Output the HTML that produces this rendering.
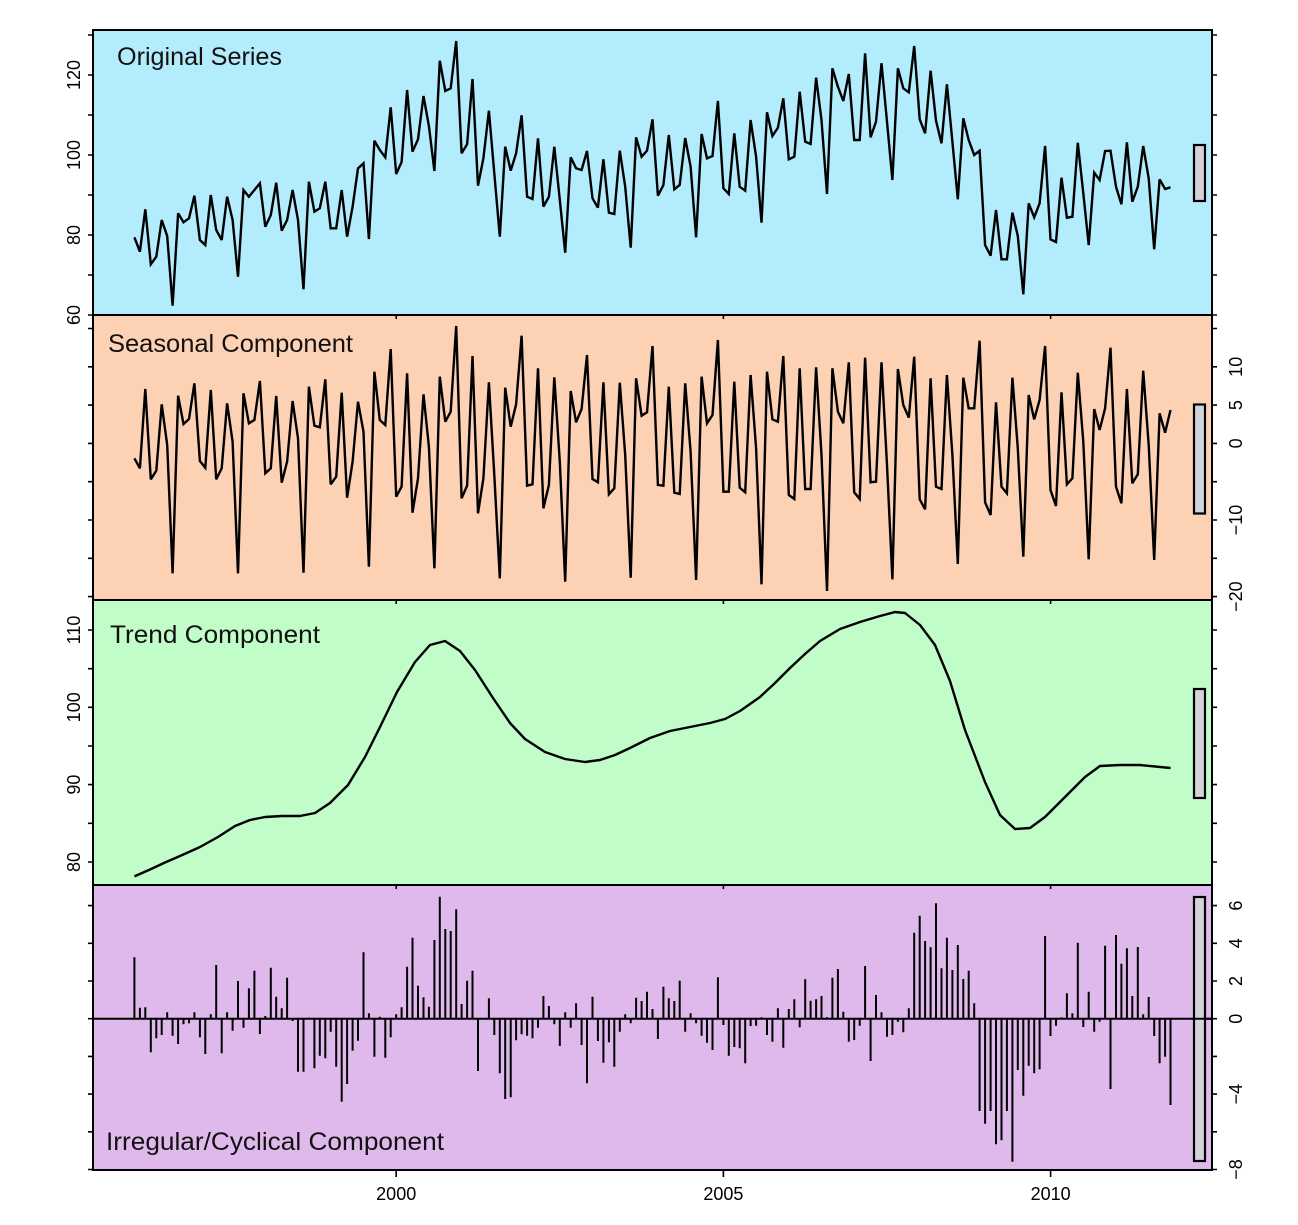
<!DOCTYPE html>
<html>
<head>
<meta charset="utf-8">
<style>
html,body{margin:0;padding:0;background:#ffffff;}
svg{display:block;}
.ax{font-family:"Liberation Sans",Arial,sans-serif;font-size:18px;fill:#000;}
.tt{font-family:"Liberation Sans",Arial,sans-serif;font-size:25px;fill:#111;}
</style>
</head>
<body>
<svg width="1298" height="1225" viewBox="0 0 1298 1225" xmlns="http://www.w3.org/2000/svg">
<rect x="0" y="0" width="1298" height="1225" fill="#ffffff"/>

<!-- panel backgrounds -->
<rect x="93" y="30" width="1119" height="285" fill="#b3ecfc"/>
<rect x="93" y="315" width="1119" height="285" fill="#fcd1b4"/>
<rect x="93" y="600" width="1119" height="285" fill="#c1fdc9"/>
<rect x="93" y="885" width="1119" height="285" fill="#e0b9ec"/>

<!-- titles -->
<text class="tt" x="117" y="65" textLength="165" lengthAdjust="spacingAndGlyphs">Original Series</text>
<text class="tt" x="108" y="352" textLength="245" lengthAdjust="spacingAndGlyphs">Seasonal Component</text>
<text class="tt" x="110" y="643" textLength="210" lengthAdjust="spacingAndGlyphs">Trend Component</text>
<text class="tt" x="106" y="1150" textLength="338" lengthAdjust="spacingAndGlyphs">Irregular/Cyclical Component</text>

<!-- original series -->
<polyline fill="none" stroke="#000" stroke-width="2.4" stroke-linejoin="miter" stroke-miterlimit="3" points="134.4,237.3 139.9,251.7 145.3,209.3 150.8,264.3 156.3,256.7 161.7,220 167.2,236 172.6,305.7 178.1,213.3 183.5,222.3 189,218.3 194.4,195.7 199.9,240 205.3,245 210.8,195 216.2,230 221.7,240 227.1,196.7 232.6,220 238,276.7 243.5,190 248.9,196.7 254.4,190 259.9,183.3 265.3,226.7 270.8,215 276.2,182.7 281.7,230.7 287.1,220 292.6,190 298,220 303.5,289.3 308.9,181.7 314.4,211.7 319.8,208.3 325.3,181.7 330.7,228.3 336.2,228.3 341.7,190 347.1,236.7 352.6,206.7 358,168.3 363.5,163.3 368.9,239 374.4,140.7 379.8,150 385.3,157.3 390.7,107.3 396.2,174 401.6,162 407.1,90 412.5,151.7 418,139.3 423.5,96 428.9,126 434.4,171 439.8,60.7 445.3,91 450.7,88.3 456.2,41 461.6,153.3 467.1,144.3 472.5,79 478,185.7 483.4,158.3 488.9,110.7 494.3,173.3 499.8,236.7 505.2,146.7 510.7,170.7 516.1,153.3 521.6,115.3 527.1,196.7 532.5,199 538,138.3 543.4,206.7 548.9,196.7 554.3,146.7 559.8,200 565.2,252.7 570.7,157.3 576.1,168.3 581.6,170 587,151 592.5,198.3 597.9,207.7 603.4,159.3 608.9,212.7 614.3,214 619.8,150.7 625.2,186.7 630.7,247.7 636.1,137.3 641.6,156.7 647,150.7 652.5,119.3 657.9,195.7 663.4,185 668.8,135 674.3,189.3 679.7,185 685.2,138 690.6,166.7 696.1,237.3 701.6,134 707,158.3 712.5,156 717.9,101 723.4,188.3 728.8,194 734.3,133.3 739.7,186.7 745.2,190.7 750.6,120 756.1,156.7 761.5,222.7 767,112.3 772.4,136 777.9,127.7 783.3,98.3 788.8,159.3 794.3,156.7 799.7,91.7 805.2,141.7 810.6,144 816.1,77.7 821.5,120 827,194 832.4,68.3 837.9,86.7 843.3,101 848.8,74 854.2,140 859.7,140 865.1,53.3 870.6,137.3 876,121.7 881.5,63.3 887,121.7 892.4,180 897.9,68.3 903.3,88.3 908.8,92.3 914.2,46 919.7,119.3 925.1,133.3 930.6,70.7 936,120.7 941.5,143.3 946.9,84.3 952.4,141.7 957.8,199.3 963.3,118.3 968.7,140 974.2,155 979.6,150.7 985.1,245 990.6,255.7 996,210 1001.5,259.3 1006.9,259.3 1012.4,212.7 1017.8,236 1023.3,294.3 1028.7,203.3 1034.2,217.3 1039.6,203.3 1045.1,146 1050.5,239.3 1056,242 1061.5,177.7 1066.9,217.7 1072.4,216.7 1077.8,142.7 1083.3,193.3 1088.7,245 1094.2,172.7 1099.6,180 1105.1,151 1110.5,150.7 1116,186.7 1121.4,204.3 1126.9,142.3 1132.3,201.7 1137.8,186.7 1143.2,146 1148.7,178.3 1154.2,249.3 1159.6,179.3 1165.1,189 1170.5,187.3"/>

<!-- seasonal -->
<polyline fill="none" stroke="#000" stroke-width="2.4" stroke-linejoin="miter" stroke-miterlimit="3" points="134.4,458.3 139.9,468.3 145.3,389 150.8,479.3 156.3,470.7 161.7,404.3 167.2,445 172.6,573.3 178.1,395.7 183.5,424 189,419 194.4,383.3 199.9,461 205.3,467.7 210.8,390 216.2,479.3 221.7,468.3 227.1,403.3 232.6,441.7 238,573.3 243.5,393.3 248.9,423.3 254.4,420 259.9,381 265.3,473.3 270.8,468.3 276.2,396 281.7,482.7 287.1,461.7 292.6,401 298,438.3 303.5,572.7 308.9,386.7 314.4,425.7 319.8,427.3 325.3,379.3 330.7,484.3 336.2,476.7 341.7,392.7 347.1,497.7 352.6,461.7 358,401.7 363.5,431.7 368.9,566.7 374.4,371.7 379.8,420 385.3,425 390.7,349 396.2,496.7 401.6,486.7 407.1,373.3 412.5,512.7 418,478.3 423.5,394.3 428.9,446.7 434.4,568.3 439.8,376.7 445.3,421.7 450.7,411.7 456.2,326 461.6,498.3 467.1,485.7 472.5,356 478,513.3 483.4,478.3 488.9,382.3 494.3,475 499.8,578.3 505.2,387.7 510.7,426.7 516.1,404.3 521.6,335.7 527.1,485.7 532.5,484.3 538,368.3 543.4,508.3 548.9,485 554.3,377.3 559.8,461.7 565.2,581.7 570.7,391 576.1,422.3 581.6,409 587,355 592.5,479 597.9,482.3 603.4,382.3 608.9,494.3 614.3,488.3 619.8,382.7 625.2,455 630.7,577.7 636.1,378.3 641.6,415.7 647,412.3 652.5,346 657.9,485 663.4,485.7 668.8,386.7 674.3,492.7 679.7,494 685.2,383.3 690.6,451.7 696.1,580 701.6,376.7 707,423.3 712.5,415 717.9,340 723.4,491.7 728.8,491.7 734.3,381.7 739.7,487.7 745.2,492.3 750.6,375 756.1,448.3 761.5,584.3 767,371.7 772.4,419.3 777.9,421.7 783.3,356 788.8,495 794.3,499 799.7,368.3 805.2,489 810.6,489 816.1,367.3 821.5,455 827,591 832.4,368.3 837.9,411.7 843.3,423.3 848.8,362.3 854.2,492.3 859.7,499 865.1,357.7 870.6,482.3 876,481.7 881.5,362.3 887,465 892.4,579.3 897.9,369 903.3,405 908.8,417.7 914.2,356.7 919.7,499.3 925.1,509.3 930.6,378.3 936,486.7 941.5,489 946.9,375 952.4,455 957.8,564 963.3,377.7 968.7,408.3 974.2,408.3 979.6,340.7 985.1,502.3 990.6,515 996,402.3 1001.5,486.7 1006.9,493.3 1012.4,377.7 1017.8,448.3 1023.3,556.7 1028.7,395 1034.2,419.3 1039.6,400 1045.1,346 1050.5,490 1056,506 1061.5,392.3 1066.9,484.3 1072.4,478.3 1077.8,372.7 1083.3,441.7 1088.7,559.3 1094.2,409 1099.6,430 1105.1,408.3 1110.5,347.7 1116,486.7 1121.4,503.3 1126.9,389 1132.3,483.3 1137.8,474.3 1143.2,370.7 1148.7,445 1154.2,560 1159.6,413.3 1165.1,432.7 1170.5,410"/>

<!-- trend -->
<polyline fill="none" stroke="#000" stroke-width="2.4" stroke-linejoin="round" points="134.4,876.4 150,869.5 165,862.5 180,856 200,847 218,837 235,826 250,820 265,817 282,816 300,816 315,813 330,803 348,785 365,757 380,727 397,692 415,662 430,645 445,641 460,651 475,670 493,698 510,723 525,739 545,752 565,759 585,762 600,760 615,755 630,748 650,738 670,731 690,727 710,723 725,719 740,711 760,697 775,683 790,668 805,654 820,641 840,629 860,622 880,616 895,612 905,613 920,625 935,645 950,681 965,730 985,782 1000,815 1015,829 1030,828 1045,817 1065,797 1085,777 1100,766 1120,765 1140,765 1170.5,768"/>

<!-- irregular bars -->
<path fill="none" stroke="#000" stroke-width="2" d="M134.4 1018.7V957.3M139.9 1018.7V1007.7M145.3 1018.7V1007.3M150.8 1018.7V1052.3M156.3 1018.7V1038.3M161.7 1018.7V1035M167.2 1018.7V1012.3M172.6 1018.7V1035.7M178.1 1018.7V1044M183.5 1018.7V1024.3M189 1018.7V1023.3M194.4 1018.7V1012.3M199.9 1018.7V1037.3M205.3 1018.7V1054M210.8 1018.7V1014.3M216.2 1018.7V965M221.7 1018.7V1053.3M227.1 1018.7V1012.3M232.6 1018.7V1030.7M238 1018.7V981M243.5 1018.7V1027.7M248.9 1018.7V988.3M254.4 1018.7V970.7M259.9 1018.7V1034M265.3 1018.7V1016M270.8 1018.7V967.7M276.2 1018.7V996.7M281.7 1018.7V1008.3M287.1 1018.7V977.7M292.6 1018.7V1021M298 1018.7V1071.7M303.5 1018.7V1071.7M308.9 1018.7V1017.7M314.4 1018.7V1068.3M319.8 1018.7V1055.7M325.3 1018.7V1058.3M330.7 1018.7V1031.7M336.2 1018.7V1066.7M341.7 1018.7V1101.7M347.1 1018.7V1084M352.6 1018.7V1050.7M358 1018.7V1040.7M363.5 1018.7V952.3M368.9 1018.7V1013.3M374.4 1018.7V1056.7M379.8 1018.7V1016.7M385.3 1018.7V1057.7M390.7 1018.7V1037.3M396.2 1018.7V1014.3M401.6 1018.7V1007.3M407.1 1018.7V966.7M412.5 1018.7V937.7M418 1018.7V985.7M423.5 1018.7V997.3M428.9 1018.7V1006.7M434.4 1018.7V940M439.8 1018.7V896.7M445.3 1018.7V929M450.7 1018.7V931M456.2 1018.7V909.3M461.6 1018.7V1004M467.1 1018.7V980.7M472.5 1018.7V970.7M478 1018.7V1071M483.4 1018.7V1019M488.9 1018.7V998.3M494.3 1018.7V1035M499.8 1018.7V1073.3M505.2 1018.7V1099M510.7 1018.7V1097.3M516.1 1018.7V1040.3M521.6 1018.7V1034.3M527.1 1018.7V1035.7M532.5 1018.7V1038.3M538 1018.7V1027.7M543.4 1018.7V996M548.9 1018.7V1006M554.3 1018.7V1024.3M559.8 1018.7V1046M565.2 1018.7V1012.3M570.7 1018.7V1027.7M576.1 1018.7V1003.3M581.6 1018.7V1045M587 1018.7V1083.3M592.5 1018.7V996.7M597.9 1018.7V1041M603.4 1018.7V1062.7M608.9 1018.7V1042.3M614.3 1018.7V1066.7M619.8 1018.7V1031.7M625.2 1018.7V1014.3M630.7 1018.7V1023.3M636.1 1018.7V997.7M641.6 1018.7V1001M647 1018.7V991.7M652.5 1018.7V1009M657.9 1018.7V1039M663.4 1018.7V986.7M668.8 1018.7V998.3M674.3 1018.7V1001M679.7 1018.7V980.7M685.2 1018.7V1031.7M690.6 1018.7V1013.3M696.1 1018.7V1023.3M701.6 1018.7V1035.7M707 1018.7V1042.7M712.5 1018.7V1050M717.9 1018.7V977.3M723.4 1018.7V1025M728.8 1018.7V1055.7M734.3 1018.7V1047M739.7 1018.7V1048.3M745.2 1018.7V1063.3M750.6 1018.7V1026M756.1 1018.7V1025.7M761.5 1018.7V1017.3M767 1018.7V1035M772.4 1018.7V1041.7M777.9 1018.7V1008.3M783.3 1018.7V1047.7M788.8 1018.7V1009M794.3 1018.7V999.3M799.7 1018.7V1027.3M805.2 1018.7V979.3M810.6 1018.7V1000.7M816.1 1018.7V999.3M821.5 1018.7V996M827 1018.7V1017.3M832.4 1018.7V977.7M837.9 1018.7V969M843.3 1018.7V1011.7M848.8 1018.7V1041.7M854.2 1018.7V1040M859.7 1018.7V1025.7M865.1 1018.7V966M870.6 1018.7V1061M876 1018.7V995M881.5 1018.7V1012.3M887 1018.7V1036.7M892.4 1018.7V1035M897.9 1018.7V1021.7M903.3 1018.7V1032.3M908.8 1018.7V1008.3M914.2 1018.7V932.7M919.7 1018.7V915.7M925.1 1018.7V941M930.6 1018.7V947.3M936 1018.7V903.3M941.5 1018.7V968.3M946.9 1018.7V937.7M952.4 1018.7V970M957.8 1018.7V945M963.3 1018.7V979M968.7 1018.7V970.7M974.2 1018.7V1003.3M979.6 1018.7V1111M985.1 1018.7V1123.7M990.6 1018.7V1111M996 1018.7V1144.3M1001.5 1018.7V1140.3M1006.9 1018.7V1111M1012.4 1018.7V1161.7M1017.8 1018.7V1070M1023.3 1018.7V1095.7M1028.7 1018.7V1065.7M1034.2 1018.7V1073.3M1039.6 1018.7V1069.3M1045.1 1018.7V936M1050.5 1018.7V1036M1056 1018.7V1025.7M1061.5 1018.7V1017.3M1066.9 1018.7V993.3M1072.4 1018.7V1013.3M1077.8 1018.7V942.7M1083.3 1018.7V1027M1088.7 1018.7V991.7M1094.2 1018.7V1031.7M1099.6 1018.7V1021.7M1105.1 1018.7V945.7M1110.5 1018.7V1089M1116 1018.7V935M1121.4 1018.7V963.7M1126.9 1018.7V948.3M1132.3 1018.7V996M1137.8 1018.7V947M1143.2 1018.7V1014.3M1148.7 1018.7V997M1154.2 1018.7V1036M1159.6 1018.7V1063.3M1165.1 1018.7V1056.7M1170.5 1018.7V1105"/>

<!-- zero line -->
<line x1="93" y1="1018.7" x2="1212" y2="1018.7" stroke="#000" stroke-width="2"/>

<!-- range bars -->
<g fill="#d4d3d8" stroke="#000" stroke-width="2.2">
<rect x="1194" y="145" width="11" height="56"/>
<rect x="1194" y="404.5" width="11" height="109"/>
<rect x="1194" y="689" width="11" height="109"/>
<rect x="1194" y="897" width="11" height="264"/>
</g>
<line x1="1194" y1="1018.7" x2="1212" y2="1018.7" stroke="#000" stroke-width="2"/>

<!-- panel frames -->
<g fill="none" stroke="#000" stroke-width="2">
<rect x="93" y="30" width="1119" height="285"/>
<rect x="93" y="315" width="1119" height="285"/>
<rect x="93" y="600" width="1119" height="285"/>
<rect x="93" y="885" width="1119" height="285"/>
</g>

<!-- ticks -->
<g stroke="#000" stroke-width="1.6">
<!-- panel 1 -->
<path d="M88 315H93M88 275H93M88 235H93M88 195H93M88 155H93M88 115H93M88 75H93M88 35H93"/>
<path d="M1212 315H1217M1212 275H1217M1212 235H1217M1212 195H1217M1212 155H1217M1212 115H1217M1212 75H1217M1212 35H1217"/>
<!-- panel 2 -->
<path d="M88 596.6H93M88 558.3H93M88 520H93M88 481.7H93M88 443.4H93M88 405.1H93M88 366.8H93M88 328.5H93"/>
<path d="M1212 596.6H1217M1212 558.3H1217M1212 520H1217M1212 481.7H1217M1212 443.4H1217M1212 405.1H1217M1212 366.8H1217M1212 328.5H1217"/>
<!-- panel 3 -->
<path d="M88 630H93M88 668.7H93M88 707.3H93M88 746H93M88 784.6H93M88 823.3H93M88 862H93"/>
<path d="M1212 630H1217M1212 668.7H1217M1212 707.3H1217M1212 746H1217M1212 784.6H1217M1212 823.3H1217M1212 862H1217"/>
<!-- panel 4 -->
<path d="M88 905.6H93M88 943.3H93M88 981H93M88 1018.7H93M88 1056.4H93M88 1094.1H93M88 1131.8H93M88 1169.5H93"/>
<path d="M1212 905.6H1217M1212 943.3H1217M1212 981H1217M1212 1018.7H1217M1212 1056.4H1217M1212 1094.1H1217M1212 1131.8H1217M1212 1169.5H1217"/>
<!-- x ticks -->
<path d="M396.2 1170V1177M723.4 1170V1177M1050.6 1170V1177"/>
<path d="M396.2 315V319M723.4 315V319M1050.6 315V319M396.2 600V604M723.4 600V604M1050.6 600V604M396.2 885V889M723.4 885V889M1050.6 885V889"/>
</g>

<!-- left labels panel 1 -->
<g class="ax" text-anchor="middle">
<text transform="translate(80,315) rotate(-90)">60</text>
<text transform="translate(80,235) rotate(-90)">80</text>
<text transform="translate(80,155) rotate(-90)">100</text>
<text transform="translate(80,75) rotate(-90)">120</text>
<!-- panel 3 -->
<text transform="translate(80,862) rotate(-90)">80</text>
<text transform="translate(80,784.6) rotate(-90)">90</text>
<text transform="translate(80,707.3) rotate(-90)">100</text>
<text transform="translate(80,630) rotate(-90)">110</text>
<!-- right labels panel 2 -->
<text transform="translate(1242,366.8) rotate(-90)">10</text>
<text transform="translate(1242,405.1) rotate(-90)">5</text>
<text transform="translate(1242,443.4) rotate(-90)">0</text>
<text transform="translate(1242,520) rotate(-90)">−10</text>
<text transform="translate(1242,596.6) rotate(-90)">−20</text>
<!-- right labels panel 4 -->
<text transform="translate(1242,905.6) rotate(-90)">6</text>
<text transform="translate(1242,943.3) rotate(-90)">4</text>
<text transform="translate(1242,981) rotate(-90)">2</text>
<text transform="translate(1242,1018.7) rotate(-90)">0</text>
<text transform="translate(1242,1094.1) rotate(-90)">−4</text>
<text transform="translate(1242,1169.5) rotate(-90)">−8</text>
<!-- bottom labels -->
<text x="396.2" y="1200">2000</text>
<text x="723.4" y="1200">2005</text>
<text x="1050.6" y="1200">2010</text>
</g>
</svg>
</body>
</html>
